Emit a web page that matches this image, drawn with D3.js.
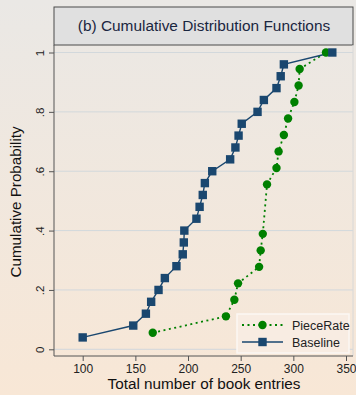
<!DOCTYPE html>
<html>
<head>
<meta charset="utf-8">
<script src="https://cdn.jsdelivr.net/npm/d3@7"></script>
<style>
  html, body { margin: 0; padding: 0; }
  svg { display: block; }
  text { font-family: "Liberation Sans", Arial, sans-serif; }
</style>
</head>
<body>
<script>
// Empirical CDFs of total book entries by treatment
const baselineEntries = [100, 148, 160, 165, 172, 178, 189, 195, 196, 196.5, 208, 211, 214, 216, 223, 240, 245, 248, 251, 266, 272, 284, 288, 291, 337];
const baselineProb    = [0.04, 0.08, 0.12, 0.16, 0.20, 0.24, 0.28, 0.32, 0.36, 0.40, 0.44, 0.48, 0.52, 0.56, 0.60, 0.64, 0.68, 0.72, 0.76, 0.80, 0.84, 0.88, 0.92, 0.96, 1.00];
const pieceEntries = [166.5, 236, 244, 247.5, 267.5, 269, 271, 275, 284, 286, 291, 295, 301, 305, 306, 331];
const pieceProb    = [0.0556, 0.1111, 0.1667, 0.2222, 0.2778, 0.3333, 0.3889, 0.5556, 0.6111, 0.6667, 0.7222, 0.7778, 0.8333, 0.8889, 0.9444, 1.00];
const xTicks = [100, 150, 200, 250, 300, 350];
const yTicks = [0, 0.2, 0.4, 0.6, 0.8, 1];
const yTickLabels = ["0", ".2", ".4", ".6", ".8", "1"];
const seriesNames = ["PieceRate", "Baseline"];

const W = 356, H = 395;
const navy = "#1a476f", green = "#008000";
const plot = { left: 54, right: 353, top: 45, bottom: 356 };

const svg = d3.select("body").append("svg").attr("width", W).attr("height", H);

const defs = svg.append("defs");
const grad = defs.append("linearGradient").attr("id", "bg").attr("x1", 0).attr("y1", 0).attr("x2", 0).attr("y2", 1);
grad.append("stop").attr("offset", "0%").attr("stop-color", "#eae8e5");
grad.append("stop").attr("offset", "100%").attr("stop-color", "#f8e7d6");

svg.append("rect").attr("width", W).attr("height", H).attr("fill", "url(#bg)");

const x = d3.scaleLinear().domain([100, 350]).range([82.7, 346]);
const y = d3.scaleLinear().domain([0, 1]).range([349.3, 52.5]);

// title box
svg.append("rect")
  .attr("x", plot.left).attr("y", 7)
  .attr("width", plot.right - plot.left).attr("height", plot.top - 7)
  .attr("fill", "#e0e0e0").attr("stroke", "#4a4a4a").attr("stroke-width", 1);
svg.append("text")
  .attr("x", (plot.left + plot.right) / 2 + 0.5).attr("y", 31)
  .attr("text-anchor", "middle").attr("font-size", 15.4).attr("fill", "#1a2640")
  .text("(b) Cumulative Distribution Functions");

// gridlines
svg.append("g").selectAll("line").data(yTicks).join("line")
  .attr("x1", plot.left).attr("x2", plot.right)
  .attr("y1", d => y(d)).attr("y2", d => y(d))
  .attr("stroke", "#d2d8dc").attr("stroke-width", 1);

// right border of plot region
svg.append("line")
  .attr("x1", plot.right).attr("x2", plot.right)
  .attr("y1", plot.top).attr("y2", plot.bottom)
  .attr("stroke", "#d8d8d8").attr("stroke-width", 1);

// y axis
const yAxis = svg.append("g").attr("transform", `translate(${plot.left},0)`)
  .call(d3.axisLeft(y).tickValues(yTicks).tickSize(5).tickFormat((d, i) => yTickLabels[i]));
yAxis.select(".domain").attr("d", `M0,${plot.top}V${plot.bottom}`).attr("stroke", "#555");
yAxis.selectAll(".tick line").attr("stroke", "#555");
yAxis.selectAll(".tick text")
  .attr("transform", "rotate(-90)")
  .attr("x", 0).attr("y", -10).attr("dy", 0)
  .attr("text-anchor", "middle")
  .attr("font-size", 11.5).attr("fill", "#222")
  .style("font-family", "Liberation Sans, Arial, sans-serif");

// x axis
const xAxis = svg.append("g").attr("transform", `translate(0,${plot.bottom})`)
  .call(d3.axisBottom(x).tickValues(xTicks).tickSize(5).tickFormat(d3.format("d")));
xAxis.select(".domain").attr("d", `M${plot.left},0H${plot.right}`).attr("stroke", "#555");
xAxis.selectAll(".tick line").attr("stroke", "#555");
xAxis.selectAll(".tick text")
  .attr("y", 8).attr("font-size", 12).attr("fill", "#222")
  .style("font-family", "Liberation Sans, Arial, sans-serif");

// axis titles
svg.append("text")
  .attr("x", (plot.left + plot.right) / 2 + 0.5).attr("y", 389)
  .attr("text-anchor", "middle").attr("font-size", 15.3).attr("fill", "#111")
  .text("Total number of book entries");
svg.append("text")
  .attr("transform", `translate(21,${(y(0) + y(1)) / 2 + 1}) rotate(-90)`)
  .attr("text-anchor", "middle").attr("font-size", 15.2).attr("fill", "#111")
  .text("Cumulative Probability");

// series
const baseline = baselineEntries.map((v, i) => [v, baselineProb[i]]);
const piece = pieceEntries.map((v, i) => [v, pieceProb[i]]);
const line = d3.line().x(d => x(d[0])).y(d => y(d[1]));

svg.append("path").datum(piece).attr("d", line)
  .attr("fill", "none").attr("stroke", green).attr("stroke-width", 1.8)
  .attr("stroke-dasharray", "2,3.5");
svg.append("path").datum(baseline).attr("d", line)
  .attr("fill", "none").attr("stroke", navy).attr("stroke-width", 1.4);

svg.append("g").selectAll("circle").data(piece).join("circle")
  .attr("cx", d => x(d[0])).attr("cy", d => y(d[1])).attr("r", 4.2).attr("fill", green);
svg.append("g").selectAll("rect").data(baseline).join("rect")
  .attr("x", d => x(d[0]) - 4.2).attr("y", d => y(d[1]) - 4.2)
  .attr("width", 8.4).attr("height", 8.4).attr("fill", navy);

// legend
const lg = svg.append("g");
lg.append("rect").attr("x", 237).attr("y", 314).attr("width", 112).attr("height", 39)
  .attr("fill", "#f8ece2").attr("stroke", "#fbf7f3").attr("stroke-width", 1.5);
const items = [
  { name: seriesNames[0], color: green, dash: "2,3.5", marker: "circle" },
  { name: seriesNames[1], color: navy, dash: null, marker: "square" }
];
items.forEach((it, i) => {
  const cy = 325 + i * 17;
  lg.append("line").attr("x1", 242).attr("x2", 283).attr("y1", cy).attr("y2", cy)
    .attr("stroke", it.color).attr("stroke-width", it.dash ? 1.8 : 1.4)
    .attr("stroke-dasharray", it.dash);
  if (it.marker === "circle") {
    lg.append("circle").attr("cx", 262.5).attr("cy", cy).attr("r", 4.2).attr("fill", it.color);
  } else {
    lg.append("rect").attr("x", 262.5 - 4.2).attr("y", cy - 4.2).attr("width", 8.4).attr("height", 8.4).attr("fill", it.color);
  }
  lg.append("text").attr("x", 292).attr("y", cy + 4.5).attr("font-size", 12.5).attr("fill", "#222").text(it.name);
});
</script>
</body>
</html>
